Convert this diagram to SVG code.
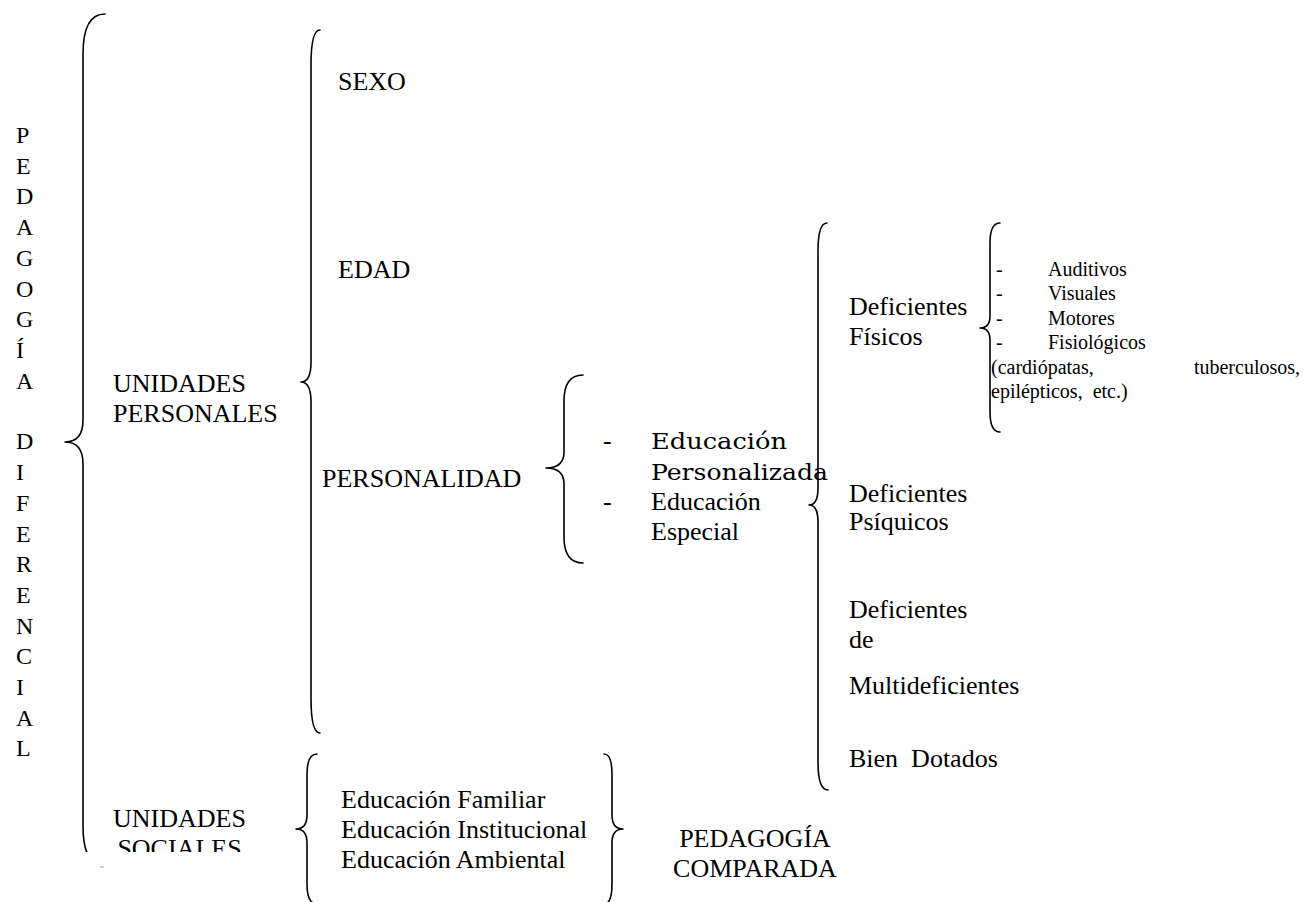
<svg xmlns="http://www.w3.org/2000/svg" width="1304" height="902" viewBox="0 0 1304 902">
<defs>
<style>
.t{font-family:"Liberation Serif","Times New Roman",serif;font-size:26px;fill:#000}
.s{font-family:"Liberation Serif","Times New Roman",serif;font-size:20px;fill:#000}
.w{font-family:"DejaVu Serif","Liberation Serif",serif;font-size:22px;fill:#000}
.v{font-family:"Liberation Serif","Times New Roman",serif;font-size:24px;fill:#000}
.b{fill:none;stroke:#000;stroke-width:1.6;stroke-linecap:round;stroke-linejoin:round}
</style>
<clipPath id="clipBottom"><rect x="0" y="0" width="300" height="852"/></clipPath>
</defs>
<rect width="1304" height="902" fill="#fff"/>

<g id="title">
<text class="v"><tspan x="16" y="143">P</tspan><tspan x="16" y="173.7">E</tspan><tspan x="16" y="204.4">D</tspan><tspan x="16" y="235.1">A</tspan><tspan x="16" y="265.8">G</tspan><tspan x="16" y="296.5">O</tspan><tspan x="16" y="327.2">G</tspan><tspan x="16" y="357.9">Í</tspan><tspan x="16" y="388.6">A</tspan><tspan x="16" y="449.4">D</tspan><tspan x="16" y="480.1">I</tspan><tspan x="16" y="510.8">F</tspan><tspan x="16" y="541.5">E</tspan><tspan x="16" y="572.2">R</tspan><tspan x="16" y="602.9">E</tspan><tspan x="16" y="633.6">N</tspan><tspan x="16" y="664.3">C</tspan><tspan x="16" y="695">I</tspan><tspan x="16" y="725.7">A</tspan><tspan x="16" y="756.4">L</tspan></text>
</g>

<g id="connectors">
<g clip-path="url(#clipBottom)">
<path class="b" d="M105,14 Q83,14 83,54 L83,420 Q83,442 65,442 Q83,442 83,464 L83,826 Q83,866 105,866"/>
</g>
<path class="b" d="M320,30 Q311,30 311,65 L311,362 Q311,382 301,382 Q311,382 311,402 L311,698 Q311,733 320,733"/>
<path class="b" d="M583,375 Q564,375 564,401 L564,452 Q564,468 546,468 Q564,468 564,484 L564,537 Q564,563 583,563"/>
<path class="b" d="M827,223 Q818,223 818,251 L818,488 Q818,505 809,505 Q818,505 818,522 L818,762 Q818,790 828,790"/>
<path class="b" d="M1000,223 Q990,223 990,243 L990,316 Q990,328 980,328 Q990,328 990,340 L990,412 Q990,432 1000,432"/>
<path class="b" d="M317,754 Q307,754 307,774 L307,815 Q307,829 296,829 Q307,829 307,843 L307,884 Q307,904 317,904"/>
<path class="b" d="M604,754 Q612,754 612,774 L612,815 Q612,829 623,829 Q612,829 612,843 L612,884 Q612,904 604,904"/>
<line x1="100" y1="867" x2="104" y2="867" stroke="#999" stroke-width="1"/>
</g>

<g id="unidades-personales">
<text class="t" x="113" y="392">UNIDADES</text>
<text class="t" x="113" y="422">PERSONALES</text>
</g>
<g id="unidades-sociales" clip-path="url(#clipBottom)">
<text class="t" x="179.5" y="827" text-anchor="middle">UNIDADES</text>
<text class="t" x="179.5" y="857" text-anchor="middle">SOCIALES</text>
</g>

<g id="sexo"><text class="t" x="338" y="90">SEXO</text></g>
<g id="edad"><text class="t" x="338" y="278">EDAD</text></g>
<g id="personalidad"><text class="t" x="322" y="487">PERSONALIDAD</text></g>

<g id="educacion-personalizada">
<text class="t" x="603" y="449">-</text>
<text class="w" x="651" y="449" textLength="136" lengthAdjust="spacingAndGlyphs">Educación</text>
<text class="w" x="651" y="480" textLength="177" lengthAdjust="spacingAndGlyphs">Personalizada</text>
</g>
<g id="educacion-especial">
<text class="t" x="603" y="510">-</text>
<text class="t" x="651" y="510">Educación</text>
<text class="t" x="651" y="540">Especial</text>
</g>

<g id="deficientes-fisicos">
<text class="t" x="849" y="315">Deficientes</text>
<text class="t" x="849" y="345">Físicos</text>
</g>
<g id="fisicos-items">
<text class="s" x="996" y="276">-</text><text class="s" x="1048" y="276">Auditivos</text>
<text class="s" x="996" y="300">-</text><text class="s" x="1048" y="300">Visuales</text>
<text class="s" x="996" y="325">-</text><text class="s" x="1048" y="325">Motores</text>
<text class="s" x="996" y="349">-</text><text class="s" x="1048" y="349">Fisiológicos</text>
<text class="s" x="991" y="374">(cardiópatas,</text><text class="s" x="1300" y="374" text-anchor="end">tuberculosos,</text>
<text class="s" x="991" y="398" xml:space="preserve">epilépticos,  etc.)</text>
</g>

<g id="deficientes-psiquicos">
<text class="t" x="849" y="502">Deficientes</text>
<text class="t" x="849" y="530">Psíquicos</text>
</g>
<g id="multideficientes">
<text class="t" x="849" y="618">Deficientes</text>
<text class="t" x="849" y="648">de</text>
<text class="t" x="849" y="694">Multideficientes</text>
</g>
<g id="bien-dotados">
<text class="t" x="849" y="767" xml:space="preserve">Bien  Dotados</text>
</g>

<g id="educacion-social">
<text class="t" x="341" y="808">Educación Familiar</text>
<text class="t" x="341" y="838">Educación Institucional</text>
<text class="t" x="341" y="868">Educación Ambiental</text>
</g>
<g id="pedagogia-comparada">
<text class="t" x="755" y="847" text-anchor="middle">PEDAGOGÍA</text>
<text class="t" x="755" y="877" text-anchor="middle">COMPARADA</text>
</g>
</svg>
